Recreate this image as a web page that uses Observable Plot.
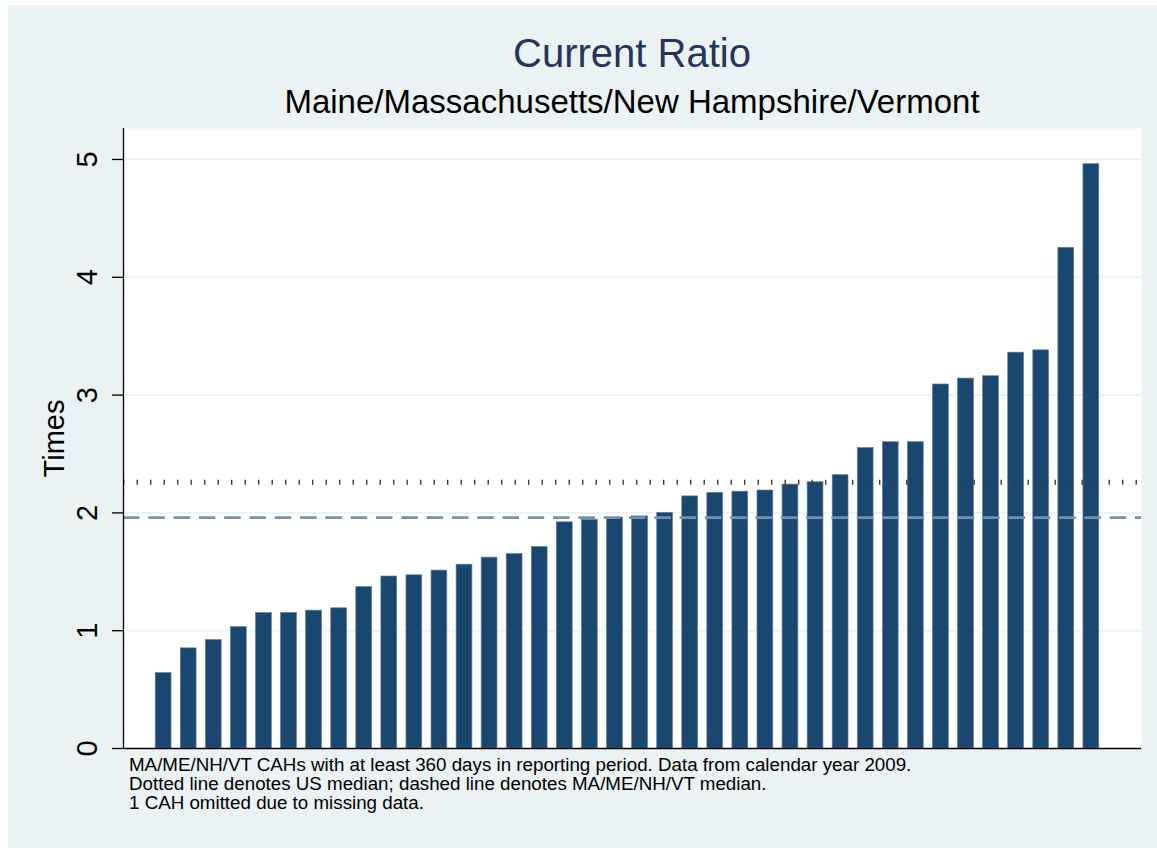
<!DOCTYPE html>
<html>
<head>
<meta charset="utf-8">
<script src="https://cdn.jsdelivr.net/npm/d3@7"></script>
<script src="https://cdn.jsdelivr.net/npm/@observablehq/plot@0.6"></script>
<style>
  html, body { margin: 0; padding: 0; background: #ffffff; }
  #wrap { position: relative; width: 1157px; height: 848px; overflow: hidden; font-family: "Liberation Sans", Arial, Helvetica, sans-serif; }
  #bg { position: absolute; left: 8px; top: 5px; right: 0; bottom: 0; background: #eaf2f3; }
  .t { position: absolute; left: 0; width: 1264px; text-align: center; line-height: 1; white-space: nowrap; }
  #title { top: 33.4px; font-size: 40px; color: #24345f; }
  #subtitle { top: 85px; font-size: 33px; color: #000; }
  #caption { position: absolute; left: 129px; top: 755px; font-size: 18.75px; line-height: 19px; color: #000; white-space: nowrap; }
  #chart { position: absolute; left: 0; top: 118px; }
</style>
</head>
<body>
<div id="wrap">
  <div id="bg"></div>
  <div id="title" class="t">Current Ratio</div>
  <div id="subtitle" class="t">Maine/Massachusetts/New Hampshire/Vermont</div>
  <div id="chart"></div>
  <div id="caption">MA/ME/NH/VT CAHs with at least 360 days in reporting period. Data from calendar year 2009.<br>Dotted line denotes US median; dashed line denotes MA/ME/NH/VT median.<br>1 CAH omitted due to missing data.</div>
</div>
<script>
// Current ratio of each CAH, sorted ascending (rank 1..38)
const ratios = [0.64, 0.85, 0.92, 1.03, 1.15, 1.15, 1.17, 1.19, 1.37, 1.46,
                1.47, 1.51, 1.56, 1.62, 1.65, 1.71, 1.92, 1.94, 1.96, 1.97,
                2.00, 2.14, 2.17, 2.18, 2.19, 2.24, 2.26, 2.32, 2.55, 2.60,
                2.60, 3.09, 3.14, 3.16, 3.36, 3.38, 4.25, 4.96];
const usMedian = 2.26;
const regionMedian = 1.96;
const yTicks = [0, 1, 2, 3, 4, 5];
const gridTicks = [1, 2, 3, 4, 5];
const xDomain = [-0.6, 40];
const yDomain = [0, 5.263];

const data = ratios.map((v, i) => ({rank: i + 1, value: v}));
const half = 0.315;

const chart = Plot.plot({
  width: 1157,
  height: 640,
  marginTop: 10,
  marginBottom: 10,
  marginLeft: 123,
  marginRight: 16,
  style: {background: "transparent", fontFamily: "'Liberation Sans', Arial, Helvetica, sans-serif", overflow: "visible"},
  x: {type: "linear", domain: xDomain, axis: null},
  y: {type: "linear", domain: yDomain, axis: null},
  marks: [
    Plot.frame({fill: "white", stroke: null}),
    Plot.ruleY(gridTicks, {stroke: "#eaf2f3", strokeWidth: 1.6}),
    Plot.rect(data, {x1: d => d.rank - half, x2: d => d.rank + half, y1: 0, y2: "value", fill: "#1a476f", stroke: "#5f7f9c", strokeWidth: 0.7}),
    Plot.ruleY([usMedian], {stroke: "#3a3a3a", strokeWidth: 5, strokeDasharray: "1.4 12.1"}),
    Plot.ruleY([regionMedian], {stroke: "#7890ad", strokeWidth: 2.6, strokeDasharray: "16.5 8.8"}),
    Plot.ruleY([0], {stroke: "black", strokeWidth: 1.3}),
    Plot.ruleX([xDomain[0]], {stroke: "black", strokeWidth: 1.3}),
    Plot.axisY({ticks: yTicks, anchor: "left", tickSize: 11, tickFormat: () => "", label: null, stroke: "black", strokeWidth: 1.3}),
    Plot.text(yTicks, {y: d => d, text: d => String(d), frameAnchor: "left", dx: -36, rotate: -90, textAnchor: "middle", lineAnchor: "middle", fontSize: 29, fill: "black"}),
    Plot.text(["Times"], {frameAnchor: "left", dx: -69, rotate: -90, textAnchor: "middle", lineAnchor: "middle", fontSize: 29, fill: "black"})
  ]
});
document.getElementById("chart").appendChild(chart);
</script>
</body>
</html>
